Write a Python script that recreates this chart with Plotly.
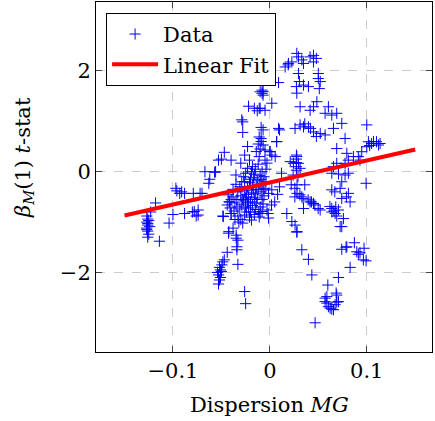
import plotly.graph_objects as go

# ---- data ----
cl_left_x = [-0.127,-0.126,-0.127,-0.126,-0.127,-0.126,-0.125,-0.126,-0.125,-0.124,-0.114,-0.118,-0.123,-0.126,-0.127]
cl_left_y = [-0.88,-0.94,-1.00,-1.06,-1.12,-1.18,-1.24,-1.30,-0.97,-1.09,-1.38,-0.62,-0.80,-1.03,-1.15]

cl2_x = [-0.104,-0.100,-0.096,-0.093,-0.088,-0.079,-0.088,-0.078,-0.076,-0.097,-0.070,-0.074,-0.074,-0.080,-0.091]
cl2_y = [-1.02,-0.85,-0.38,-0.43,-0.43,-0.43,-0.83,-0.79,-0.88,-0.33,-0.43,-0.76,-0.86,-0.80,-0.40]

cl3_x = [-0.067,-0.056,-0.063,-0.062,-0.072,-0.053,-0.047,-0.040,-0.057,-0.035,-0.048,-0.050]
cl3_y = [0.0,0.0,-0.23,-0.15,-0.43,0.23,0.385,0.23,-0.012,-0.065,-0.89,0.25]

col_x = [-0.028,-0.028,-0.022,-0.016,-0.013,-0.008,-0.010,-0.007,-0.011,-0.029,-0.011,-0.009,-0.023,-0.030,-0.026,
         -0.021,-0.018,-0.014,-0.011,-0.023,-0.007,-0.010,-0.005,0.002,0.009,0.010,-0.007,-0.008,-0.005,0.002,
         0.007,-0.009,-0.007,-0.005,0.0,-0.003,0.009,0.007,0.0055,-0.015,-0.012,-0.008,-0.004,-0.019,-0.016,
         -0.006,-0.010,-0.012,-0.009]
col_y = [0.99,0.78,1.30,1.26,1.21,1.556,1.587,1.52,1.258,1.03,0.69,0.60,0.50,0.17,0.33,
         0.23,0.10,0.40,0.30,0.067,1.59,1.26,1.22,1.36,1.77,0.83,0.83,1.62,0.43,0.33,
         0.60,0.66,0.53,0.23,0.40,0.17,0.86,0.595,0.30,0.05,0.15,0.0,0.05,0.0,-0.05,
         -0.10,0.45,0.55,0.88]

blob_x = [-0.043,-0.040,-0.042,-0.038,-0.036,-0.034,-0.040,-0.037,-0.033,-0.030,-0.028,-0.031,-0.029,-0.027,-0.025,
          -0.024,-0.026,-0.023,-0.021,-0.020,-0.018,-0.017,-0.019,-0.022,-0.020,-0.018,-0.022,-0.024,-0.026,-0.021,
          -0.019,-0.016,-0.015,-0.014,-0.013,-0.015,-0.012,-0.011,-0.013,-0.010,-0.009,-0.008,-0.010,-0.007,-0.006,
          -0.005,-0.004,-0.033,-0.031,-0.029,-0.035,-0.038,-0.041,-0.044,-0.027,-0.025,-0.016,-0.012,-0.011,-0.028,
          -0.030,-0.023,-0.017,-0.020,-0.025,-0.032,-0.036,-0.034,-0.014,-0.009,-0.026]
blob_y = [-0.46,-0.55,-0.60,-0.50,-0.62,-0.70,-0.83,-0.78,-0.88,-0.95,-1.02,-0.74,-0.66,-0.58,-0.52,
          -0.45,-0.38,-0.30,-0.22,-0.15,-0.28,-0.36,-0.42,-0.50,-0.60,-0.67,-0.72,-0.80,-0.86,-0.90,
          -0.96,-0.85,-0.75,-0.62,-0.52,-0.44,-0.35,-0.25,-0.18,-0.08,-0.40,-0.55,-0.70,-0.64,-0.48,
          -0.33,-0.20,-0.40,-0.30,-0.20,-0.25,-0.35,-0.72,-0.66,-0.10,-0.03,-0.55,-0.80,-0.90,-0.55,
          -0.48,-0.62,-0.12,-0.80,-0.70,-1.00,-0.95,-0.55,-0.30,-0.15,-0.20]

tail_x = [-0.0423,-0.038,-0.0347,-0.033,-0.0427,-0.0347,-0.034,-0.034,-0.044,-0.047,-0.0495,-0.051,-0.053,-0.052,-0.053,
          -0.033,-0.026,-0.025,-0.0485,-0.0485,-0.040,-0.0417,-0.052,-0.054,-0.051,-0.050]
tail_y = [-1.19,-1.12,-1.26,-1.36,-1.22,-1.32,-1.49,-1.55,-1.60,-1.75,-1.85,-1.95,-2.05,-2.15,-2.23,
          -1.84,-2.38,-2.62,-1.79,-0.88,-0.83,-0.60,-1.90,-2.00,-2.10,-1.98]

mid_x = [0.012,0.024,0.028,0.028,0.033,0.0175,0.0227,0.026,0.028,-0.007,-0.007,-0.0014,0.002,-0.008,-0.003,
         -0.0014,0.0017,-0.0018,-0.010,0.0258,0.031,0.0343,0.0395,0.0429,0.0464,0.0498,0.029,0.036,0.022,0.0258,
         0.0274,0.0274,0.0274,0.0274,0.0274,0.0278,0.0295,0.0312,0.0243,0.021,0.0003,0.005,0.008,0.010]
mid_y = [-0.03,-0.066,-0.26,-0.43,-0.50,-0.83,-0.99,-1.06,-1.19,-0.23,-0.36,-0.43,-0.36,-0.79,-0.76,
         -0.92,-0.66,-0.83,-0.83,-0.33,-0.46,-0.53,-0.56,-0.60,-0.66,-0.73,-0.10,-0.26,-0.26,-0.50,
         0.33,0.25,0.18,0.10,0.03,0.30,0.167,0.067,0.167,0.20,0.397,-0.60,-0.45,-0.30]

up_x = [0.0158,0.0192,0.0227,0.0278,0.0295,0.033,0.0347,0.0415,0.045,0.045,0.0295,0.0305,0.0347,0.0398,0.050,
        0.052,0.051,0.0278,0.0312,0.0415,0.045,0.0485,0.0604,0.057,0.0639,0.069,0.0742,0.0312,0.0347,0.0398,
        0.026,0.045,0.052,0.057,0.0656,0.0776,0.069,0.0794,0.0274,0.0189,0.048,0.050,0.036,0.042,0.048,
        0.0656,0.069,0.0639,0.081,0.093]
up_y = [2.08,2.15,2.18,2.35,2.28,2.22,2.15,2.28,2.31,2.18,1.95,1.79,1.72,1.69,1.85,
        1.79,1.65,1.56,1.29,1.22,1.29,1.39,1.29,1.16,1.125,1.16,0.96,0.93,0.89,0.89,
        0.86,0.79,0.76,0.73,0.86,0.66,0.46,0.365,1.69,2.12,2.25,1.95,0.95,0.86,0.70,
        0.10,0.167,-0.03,-0.03,0.23]

far_x = [0.100,0.1017,0.105,0.110,0.1137,0.100,0.0948,0.0913,0.0862,0.081,0.0776,0.107,0.112,0.103]
far_y = [0.93,0.595,0.56,0.595,0.56,0.496,0.397,0.30,0.30,0.23,0.167,0.60,0.53,0.52]

rl_x = [0.0415,0.045,0.0347,0.0519,0.0639,0.0673,0.0708,0.0759,0.0725,0.0639,0.0725,0.0828,0.081,0.0742,0.0776,
        0.0742,0.0993,0.0708,0.066,0.068,0.064,0.069,0.062,0.0742,0.067,0.079]
rl_y = [-0.60,-0.63,-0.73,-0.76,-0.73,-0.83,-0.76,-0.93,-1.09,-0.36,-0.33,-0.60,-0.43,-0.20,-0.066,
        -0.53,-0.23,-0.046,-0.78,-0.70,-0.80,-0.88,-0.69,-1.09,-0.40,-0.50]

low_x = [0.0278,0.033,0.0398,0.0433,0.0467,0.0742,0.0786,0.0872,0.0897,0.093,0.0972,0.0965,0.0993,0.0828,0.0708,
         0.0598,0.0588,0.057,0.0622,0.0656,0.0684,0.0708,0.0673,0.057,0.0604,0.0639,0.069,0.0588,0.069,0.0913,0.0794]
low_y = [-1.20,-1.55,-1.74,-2.05,-3.00,-1.54,-1.50,-1.41,-1.59,-1.61,-1.52,-1.75,-1.77,-1.90,-2.10,
         -2.25,-2.48,-2.58,-2.71,-2.74,-2.41,-2.58,-2.64,-2.51,-2.68,-2.73,-2.45,-2.61,-2.59,-1.64,-1.49]

data_x = cl_left_x + cl2_x + cl3_x + col_x + blob_x + tail_x + mid_x + up_x + far_x + rl_x + low_x
data_y = cl_left_y + cl2_y + cl3_y + col_y + blob_y + tail_y + mid_y + up_y + far_y + rl_y + low_y

fit_x = [-0.15, 0.15]
fit_y = [-0.87, 0.44]

x_ticks = [-0.1, 0, 0.1]
x_ticklabels = ["\u22120.1", "0", "0.1"]
y_ticks = [-2, 0, 2]
y_ticklabels = ["\u22122", "0", "2"]

FONT = "DejaVu Serif, Liberation Serif, serif"

fig = go.Figure()
fig.add_trace(go.Scatter(
    x=data_x, y=data_y, mode="markers", name="Data",
    marker=dict(symbol="cross-thin", size=8, color="#0000ff",
                line=dict(color="#0000ff", width=1)),
))
fig.add_trace(go.Scatter(
    x=fit_x, y=fit_y, mode="lines", name="Linear Fit",
    line=dict(color="#ff0000", width=4),
))

axis_common = dict(
    showline=True, linecolor="black", linewidth=1, mirror="ticks",
    ticks="inside", ticklen=6, tickcolor="#444", tickwidth=1,
    showgrid=True, gridcolor="#cccccc", gridwidth=1, griddash="dash",
    zeroline=False, tickfont=dict(family=FONT, size=21, color="black"),
)

fig.update_layout(
    width=435, height=421,
    margin=dict(l=96, r=3, t=2, b=69),
    paper_bgcolor="white", plot_bgcolor="white",
    showlegend=True,
    legend=dict(x=0.03, y=0.969, xanchor="left", yanchor="top",
                bordercolor="black", borderwidth=1, bgcolor="white",
                font=dict(family=FONT, size=21, color="black"),
                tracegroupgap=0, itemwidth=46),
    xaxis=dict(range=[-0.1794, 0.1673], tickvals=x_ticks, ticktext=x_ticklabels, **axis_common),
    yaxis=dict(range=[-3.58, 3.37], tickvals=y_ticks, ticktext=y_ticklabels, **axis_common),
    annotations=[
        dict(text="Dispersion <i>MG</i>", xref="paper", yref="paper",
             x=(269 - 96) / 336, y=(352 - 405) / 350, xanchor="center", yanchor="middle",
             showarrow=False, font=dict(family=FONT, size=21, color="black")),
        dict(text="<i>β</i><sub><i>M</i></sub>(1) <i>t</i>-stat", xref="paper", yref="paper",
             x=(24 - 96) / 336, y=(352 - 158) / 350, xanchor="center", yanchor="middle",
             textangle=-90, showarrow=False, font=dict(family=FONT, size=21, color="black")),
    ],
)

fig.write_html("out.html")
